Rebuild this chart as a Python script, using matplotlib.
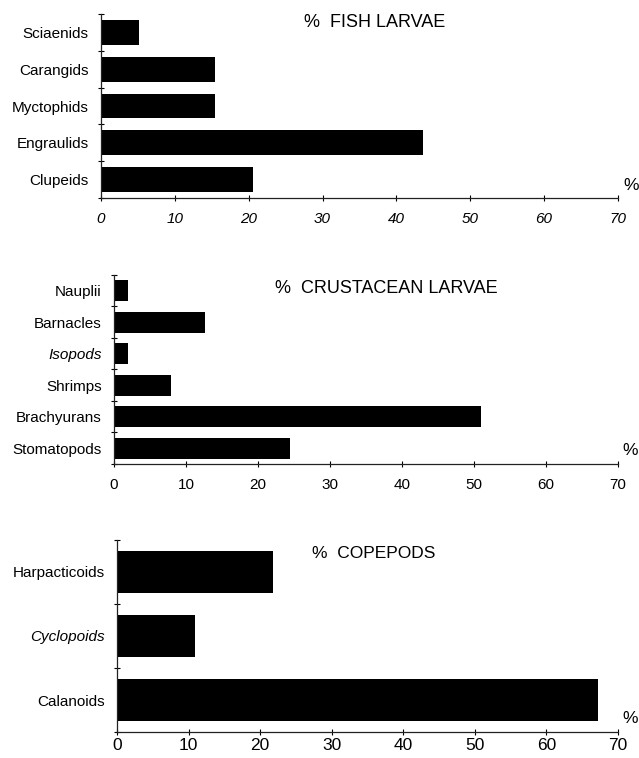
import numpy as np
import matplotlib
matplotlib.use('Agg')
import matplotlib.pyplot as plt

plt.rcParams['font.family'] = ['Liberation Sans', 'DejaVu Sans']

# Fish larvae (top to bottom)
fish_labels = ['Sciaenids', 'Carangids', 'Myctophids', 'Engraulids', 'Clupeids']
fish_values = [5.1, 15.4, 15.4, 43.6, 20.6]

# Crustacean larvae
crus_labels = ['Nauplii', 'Barnacles', 'Isopods', 'Shrimps', 'Brachyurans', 'Stomatopods']
crus_values = [1.9, 12.7, 2.0, 7.9, 51.0, 24.5]

# Copepods
cope_labels = ['Harpacticoids', 'Cyclopoids', 'Calanoids']
cope_values = [21.8, 10.9, 67.2]

xticks = [0, 10, 20, 30, 40, 50, 60, 70]

fig = plt.figure(figsize=(6.39, 7.58), dpi=100)

panels = [
    # axes rect, labels, values, title, title pos, title size, italic labels, italic xticks, tick size, tick pad
    ([0.158, 0.7388, 0.809, 0.2427], fish_labels, fish_values, '%  FISH LARVAE', (0.393, 0.955), 13, [], True, 11, 8),
    ([0.1784, 0.3879, 0.7886, 0.2493], crus_labels, crus_values, '%  CRUSTACEAN LARVAE', (0.319, 0.926), 13, ['Isopods'], False, 11, 8),
    ([0.1831, 0.0343, 0.7839, 0.2533], cope_labels, cope_values, '%  COPEPODS', (0.389, 0.932), 12.5, ['Cyclopoids'], False, 12.5, 2),
]

for rect, labels, values, title, tpos, tsz, ital, ital_x, tsize, tpad in panels:
    ax = fig.add_axes(rect)
    n = len(labels)
    y = np.arange(n)
    ax.barh(y, values, height=0.67, color='black')
    ax.set_xlim(0, 70)
    ax.set_ylim(n - 0.5, -0.5)

    for s in ['top', 'right']:
        ax.spines[s].set_visible(False)
    for s in ['left', 'bottom']:
        ax.spines[s].set_linewidth(0.9)
        ax.spines[s].set_color('#222222')

    # y: tick marks at the boundaries, labels at centres
    ax.set_yticks(np.arange(n + 1) - 0.5)
    ax.set_yticklabels([])
    ax.tick_params(axis='y', which='major', direction='inout', length=4, width=0.8)
    ax.set_yticks(y, minor=True)
    ax.set_yticklabels(labels, minor=True, fontsize=11)
    ax.tick_params(axis='y', which='minor', length=0, pad=9)
    for t in ax.get_yticklabels(minor=True):
        if t.get_text() in ital:
            t.set_style('italic')

    ax.set_xticks(xticks)
    ax.set_xticklabels([str(v) for v in xticks], fontsize=tsize,
                       style='italic' if ital_x else 'normal')
    ax.tick_params(axis='x', direction='inout', length=4, width=0.8, pad=tpad)

    ax.text(tpos[0], tpos[1], title, transform=ax.transAxes, fontsize=tsz,
            ha='left', va='center')
    ax.text(1.025, 0.07, '%', transform=ax.transAxes, fontsize=12.5,
            ha='center', va='center')

fig.savefig('out.png', dpi=100)
